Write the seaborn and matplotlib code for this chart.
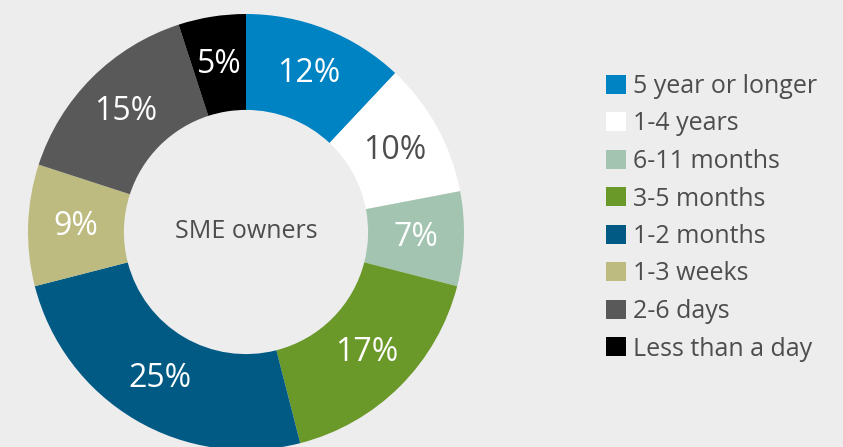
import matplotlib
matplotlib.use("Agg")
import matplotlib.pyplot as plt
import seaborn as sns

# Share of SME owners by time horizon
categories = ["5 year or longer", "1-4 years", "6-11 months", "3-5 months",
              "1-2 months", "1-3 weeks", "2-6 days", "Less than a day"]
shares = [12, 10, 7, 17, 25, 9, 15, 5]
colors = ["#0083c3", "#ffffff", "#a3c4b0", "#6a9829",
          "#005a84", "#bdbb80", "#595959", "#000000"]
label_colors = ["white", "#4d4d4d", "white", "white",
                "white", "white", "white", "white"]
center_text = "SME owners"

bg = "#ededed"
text_gray = "#4d4d4d"

sns.set_theme(style="white")
plt.rcParams["font.family"] = ["Open Sans", "DejaVu Sans"]

fig = plt.figure(figsize=(8.43, 4.47), dpi=100)
fig.patch.set_facecolor(bg)

# place the donut: center (246, 232) px, radius 218 px
W, H = 843, 447
cx, cy, r = 246, 232, 218
ax = fig.add_axes([(cx - r) / W, (H - cy - r) / H, 2 * r / W, 2 * r / H])
ax.set_facecolor(bg)

wedges, texts = ax.pie(
    shares,
    colors=colors,
    startangle=90,
    counterclock=False,
    radius=1,
    labels=[f"{v}%" for v in shares],
    labeldistance=0.78,
    wedgeprops=dict(width=0.44, linewidth=0),
    textprops=dict(fontsize=23),
)
for t, c in zip(texts, label_colors):
    t.set_color(c)
    t.set_ha("center")
    t.set_va("center")

ax.text(0, 0, center_text, ha="center", va="center", fontsize=18, color=text_gray)
ax.set_xlim(-1, 1)
ax.set_ylim(-1, 1)
ax.set_aspect("equal")
ax.axis("off")

leg = fig.legend(
    wedges, categories,
    loc="upper left",
    bbox_to_anchor=(606 / W, 1 - 74 / H),
    frameon=False,
    fontsize=18,
    handlelength=0.8,
    handleheight=0.8,
    handletextpad=0.28,
    labelspacing=0.5,
    borderaxespad=0,
    borderpad=0,
)
for t in leg.get_texts():
    t.set_color(text_gray)

fig.savefig("out.png", dpi=100, facecolor=bg)
